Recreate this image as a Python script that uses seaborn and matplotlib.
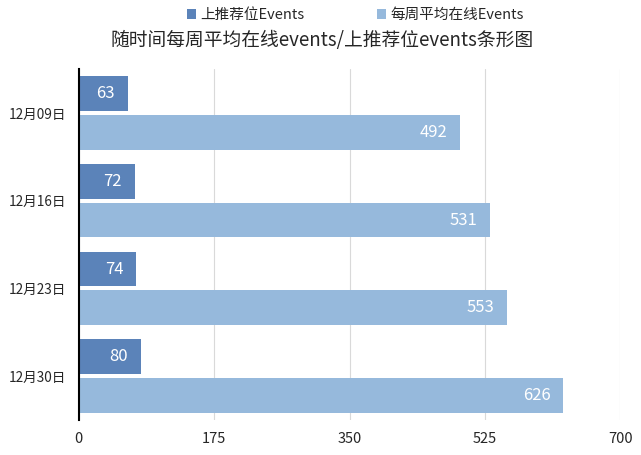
import pandas as pd
import matplotlib
matplotlib.use('Agg')
import matplotlib.pyplot as plt
import seaborn as sns

# chart data
weeks = ['12月09日', '12月16日', '12月23日', '12月30日']
featured_events = [63, 72, 74, 80]
online_events = [492, 531, 553, 626]
series_names = ['上推荐位Events', '每周平均在线Events']
x_ticks = [0, 175, 350, 525, 700]

df = pd.DataFrame({
    'week': weeks * 2,
    'events': featured_events + online_events,
    'series': [series_names[0]] * len(weeks) + [series_names[1]] * len(weeks),
})

sns.set_style('white')
plt.rcParams['font.family'] = ['Noto Sans CJK SC', 'DejaVu Sans']

fig = plt.figure(figsize=(6.41, 4.55), dpi=100)
ax = fig.add_axes([0.123, 0.077, 0.845, 0.771])

palette = {series_names[0]: '#5b83b9', series_names[1]: '#96b9dc'}
sns.barplot(data=df, y='week', x='events', hue='series', orient='h',
            palette=palette, width=0.88, gap=0.1, saturation=1, linewidth=0,
            order=weeks, hue_order=series_names, ax=ax)

# value labels inside bar ends
for cont in ax.containers:
    ax.bar_label(cont, padding=-9, color='white', fontsize=12,
                 labels=[f'{int(v)}' for v in cont.datavalues])
for txt in ax.texts:
    txt.set_ha('right')

ax.set_xlim(0, 700)
ax.set_xticks(x_ticks)
ax.set_xticklabels([str(t) for t in x_ticks], fontsize=10.5)
ax.tick_params(axis='y', labelsize=9.8, length=0, pad=9)
ax.tick_params(axis='x', length=0, pad=9)
ax.xaxis.grid(True, color='#d9d9d9', linewidth=0.8)
ax.set_axisbelow(True)
ax.set_xlabel('')
ax.set_ylabel('')
for side in ['top', 'right', 'bottom']:
    ax.spines[side].set_visible(False)
ax.spines['left'].set_color('black')
ax.spines['left'].set_linewidth(1.5)

handles, labels = ax.get_legend_handles_labels()
ax.get_legend().remove()
fig.legend(handles, labels, loc='center', bbox_to_anchor=(0.554, 0.967), ncol=2,
           frameon=False, fontsize=10.5, handlelength=0.6, handleheight=0.6,
           handletextpad=0.3, columnspacing=5)
fig.text(0.502, 0.912, '随时间每周平均在线events/上推荐位events条形图',
         ha='center', va='center', fontsize=13.5)

fig.savefig('out.png', dpi=100)
